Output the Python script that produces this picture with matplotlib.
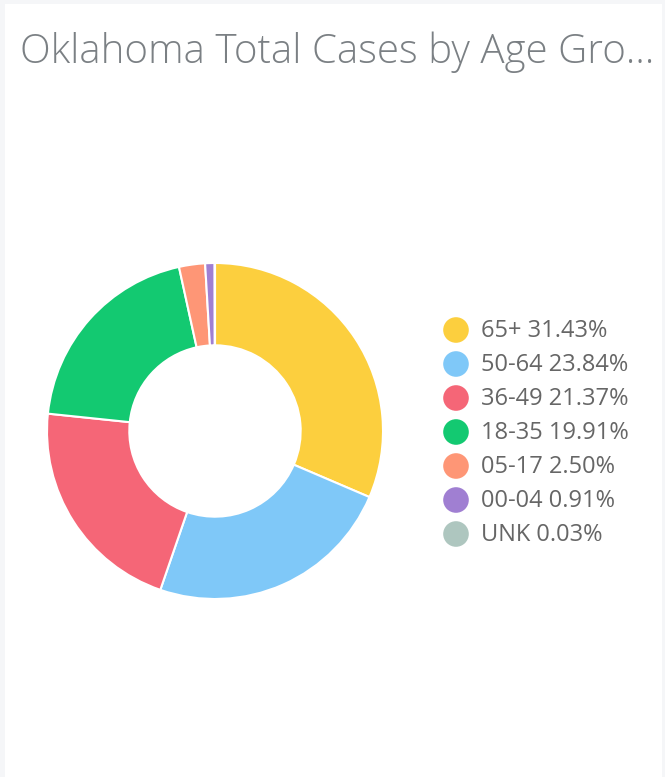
import matplotlib
matplotlib.use("Agg")
import matplotlib.pyplot as plt
from matplotlib.patches import Rectangle

labels = ["65+", "50-64", "36-49", "18-35", "05-17", "00-04", "UNK"]
values = [31.43, 23.84, 21.37, 19.91, 2.50, 0.91, 0.03]
colors = ["#FCCF3E", "#7FC8F8", "#F56677", "#13C971", "#FE9676", "#A07FD2", "#AEC6BF"]
title = "Oklahoma Total Cases by Age Gro..."

W, H = 665, 777
fig = plt.figure(figsize=(W / 100, H / 100), dpi=100)
fig.patch.set_facecolor("#F5F6F8")

# overlay axes in pixel coords
ov = fig.add_axes([0, 0, 1, 1])
ov.set_xlim(0, W)
ov.set_ylim(H, 0)
ov.axis("off")
ov.add_patch(Rectangle((5, 4), 657, 780, facecolor="white", edgecolor="none", zorder=0))

ov.text(20, 52, title, fontsize=29, family=["Open Sans", "DejaVu Sans"], fontweight="light",
        color="#7B8084", va="center", ha="left")

# donut
cx, cy, R = 215, 431, 168
ax = fig.add_axes([(cx - R) / W, (H - cy - R) / H, 2 * R / W, 2 * R / H])
ax.pie(values, colors=colors, startangle=90, counterclock=False, radius=1,
       wedgeprops=dict(width=0.49, edgecolor="white", linewidth=1.5))
ax.set_xlim(-1, 1)
ax.set_ylim(-1, 1)
ax.set_aspect("equal")
ax.axis("off")

# legend
y0, dy = 330, 34
for i, (lab, v, c) in enumerate(zip(labels, values, colors)):
    y = y0 + i * dy
    ov.scatter([456], [y], s=340, color=c, edgecolors="none", zorder=3)
    ov.text(481, y + 1, f"{lab} {v:.2f}%", fontsize=17, family=["Open Sans", "DejaVu Sans"],
            color="#666666", va="center", ha="left")

fig.savefig("out.png", dpi=100, facecolor=fig.get_facecolor())
